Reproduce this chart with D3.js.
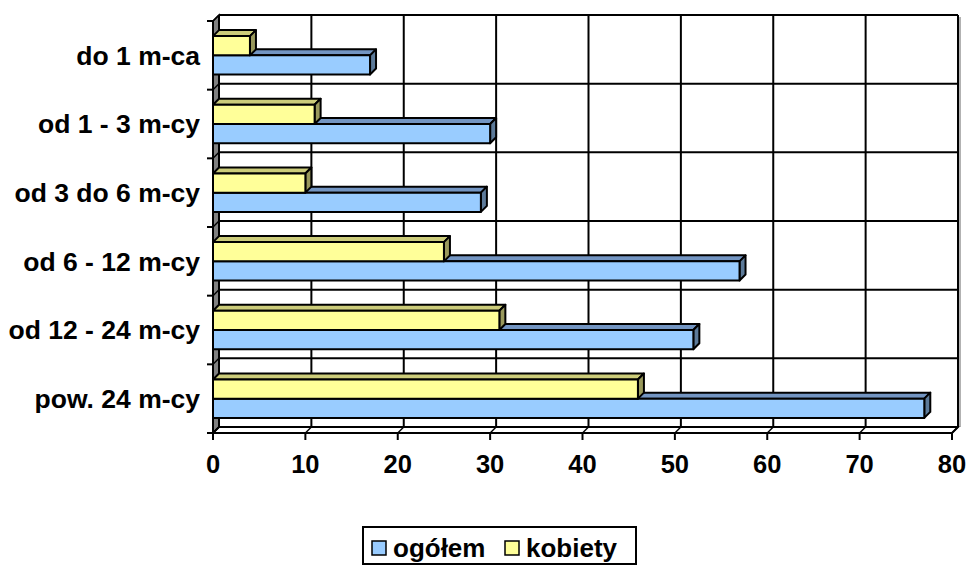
<!DOCTYPE html>
<html>
<head>
<meta charset="utf-8">
<script src="https://cdn.jsdelivr.net/npm/d3@7"></script>
<style>
  html, body { margin: 0; padding: 0; background: #fff; }
  svg { display: block; font-family: Arial, "Liberation Sans", sans-serif; font-weight: bold; }
</style>
</head>
<body>
<div id="chart"></div>
<script>
// data
var categories = ['do 1 m-ca', 'od 1 - 3 m-cy', 'od 3 do 6 m-cy', 'od 6 - 12 m-cy', 'od 12 - 24 m-cy', 'pow. 24 m-cy'];
var ogolem = [17, 30, 29, 57, 52, 77];
var kobiety = [4, 11, 10, 25, 31, 46];
var xTicks = [0, 10, 20, 30, 40, 50, 60, 70, 80];

var seriesNames = ['kobiety', 'ogolem'],  // top to bottom inside each band
    seriesLabels = {ogolem: 'ogółem', kobiety: 'kobiety'},
    seriesValues = {ogolem: ogolem, kobiety: kobiety};

var width = 970, height = 568,
    depth = 6, // 3d offset, right and up
    front = {left: 213, right: 952, top: 21, bottom: 433};

var colors = {
  ogolem: {front: '#99ccff', top: '#7395c2', side: '#5c7a99'},
  kobiety: {front: '#ffff99', top: '#cccc7a', side: '#99995c'}
};

var svg = d3.select('#chart').append('svg')
    .attr('width', width).attr('height', height);

var x = d3.scaleLinear().domain([0, 80]).range([front.left, front.right]);

var y = d3.scaleBand().domain(categories)
    .range([front.top, front.bottom])
    .paddingInner(0.44).paddingOuter(0.22);

var ySeries = d3.scaleBand().domain(seriesNames).range([0, y.bandwidth()]);

// band boundaries (front side)
var yStep = (front.bottom - front.top) / categories.length;
var bounds = d3.range(categories.length + 1).map(i => front.top + i * yStep);

function pts(a) { return a.map(p => p.join(',')).join(' '); }

// walls
var walls = svg.append('g').attr('class', 'walls');

walls.append('rect')
  .attr('x', front.left + depth).attr('y', front.top - depth)
  .attr('width', front.right - front.left).attr('height', front.bottom - front.top)
  .attr('fill', '#fff');

// left side wall
walls.append('polygon')
  .attr('points', pts([[front.left, front.top], [front.left + depth, front.top - depth],
                       [front.left + depth, front.bottom - depth], [front.left, front.bottom]]))
  .attr('fill', '#808080').attr('stroke', '#000').attr('stroke-width', 1.5);

// floor
walls.append('polygon')
  .attr('points', pts([[front.left, front.bottom], [front.left + depth, front.bottom - depth],
                       [front.right + depth, front.bottom - depth], [front.right, front.bottom]]))
  .attr('fill', '#fff').attr('stroke', '#000').attr('stroke-width', 2);

// horizontal gridlines on back wall + side wall
bounds.forEach(function(b) {
  walls.append('line')
    .attr('x1', front.left + depth).attr('x2', front.right + depth)
    .attr('y1', b - depth).attr('y2', b - depth)
    .attr('stroke', '#000').attr('stroke-width', 2);
  walls.append('line')
    .attr('x1', front.left).attr('x2', front.left + depth)
    .attr('y1', b).attr('y2', b - depth)
    .attr('stroke', '#000').attr('stroke-width', 1.5);
});

// vertical gridlines on back wall + floor
xTicks.forEach(function(t) {
  walls.append('line')
    .attr('x1', x(t) + depth).attr('x2', x(t) + depth)
    .attr('y1', front.top - depth).attr('y2', front.bottom - depth)
    .attr('stroke', '#000').attr('stroke-width', 2);
  walls.append('line')
    .attr('x1', x(t)).attr('x2', x(t) + depth)
    .attr('y1', front.bottom).attr('y2', front.bottom - depth)
    .attr('stroke', '#000').attr('stroke-width', 1.5);
});

// grey shadow on the right edge of the back wall
walls.append('line')
  .attr('x1', front.right + depth + 2).attr('x2', front.right + depth + 2)
  .attr('y1', front.top - depth + 2).attr('y2', front.bottom - depth)
  .attr('stroke', '#999').attr('stroke-width', 1.5);

// bars
var bars = svg.append('g').attr('class', 'bars');

categories.forEach(function(c, i) {
  ['ogolem', 'kobiety'].forEach(function(s) {
    var v = seriesValues[s][i],
        x0 = x(0), x1 = x(v),
        y0 = y(c) + ySeries(s), h = ySeries.bandwidth(),
        col = colors[s];
    var g = bars.append('g').attr('stroke', '#000').attr('stroke-width', 2).attr('stroke-linejoin', 'round');
    g.append('polygon') // top face
      .attr('points', pts([[x0, y0], [x0 + depth, y0 - depth], [x1 + depth, y0 - depth], [x1, y0]]))
      .attr('fill', col.top);
    g.append('polygon') // right face
      .attr('points', pts([[x1, y0], [x1 + depth, y0 - depth], [x1 + depth, y0 + h - depth], [x1, y0 + h]]))
      .attr('fill', col.side);
    g.append('rect') // front face
      .attr('x', x0).attr('y', y0).attr('width', x1 - x0).attr('height', h)
      .attr('fill', col.front);
  });
});

// axes (front edges)
var axes = svg.append('g').attr('stroke', '#000').attr('stroke-width', 2);
axes.append('line').attr('x1', front.left).attr('x2', front.left)
  .attr('y1', front.top).attr('y2', front.bottom);
axes.append('line').attr('x1', front.left).attr('x2', front.right)
  .attr('y1', front.bottom).attr('y2', front.bottom);

bounds.forEach(function(b) {
  axes.append('line').attr('x1', front.left - 6).attr('x2', front.left)
    .attr('y1', b).attr('y2', b);
});
xTicks.forEach(function(t) {
  axes.append('line').attr('x1', x(t)).attr('x2', x(t))
    .attr('y1', front.bottom).attr('y2', front.bottom + 7);
});

// category labels
svg.append('g').selectAll('text')
  .data(categories)
  .enter().append('text')
  .attr('x', 200)
  .attr('y', d => y(d) + y.bandwidth() / 2)
  .attr('dy', '0.35em')
  .attr('text-anchor', 'end')
  .attr('font-size', 26.5)
  .text(d => d);

// tick labels
svg.append('g').selectAll('text')
  .data(xTicks)
  .enter().append('text')
  .attr('x', d => x(d))
  .attr('y', 464)
  .attr('dy', '0.35em')
  .attr('text-anchor', 'middle')
  .attr('font-size', 25.5)
  .text(d => d);

// legend
var legend = svg.append('g').attr('class', 'legend');
legend.append('rect')
  .attr('x', 363).attr('y', 527).attr('width', 273).attr('height', 37)
  .attr('fill', '#fff').attr('stroke', '#000').attr('stroke-width', 2);

var legendItems = [{key: 'ogolem', x: 372}, {key: 'kobiety', x: 505}];
legendItems.forEach(function(it) {
  legend.append('rect')
    .attr('x', it.x).attr('y', 541).attr('width', 14).attr('height', 14)
    .attr('fill', colors[it.key].front).attr('stroke', '#000').attr('stroke-width', 1.5);
  legend.append('text')
    .attr('x', it.x + 21).attr('y', 548).attr('dy', '0.35em')
    .attr('font-size', 26)
    .text(seriesLabels[it.key]);
});
</script>
</body>
</html>
